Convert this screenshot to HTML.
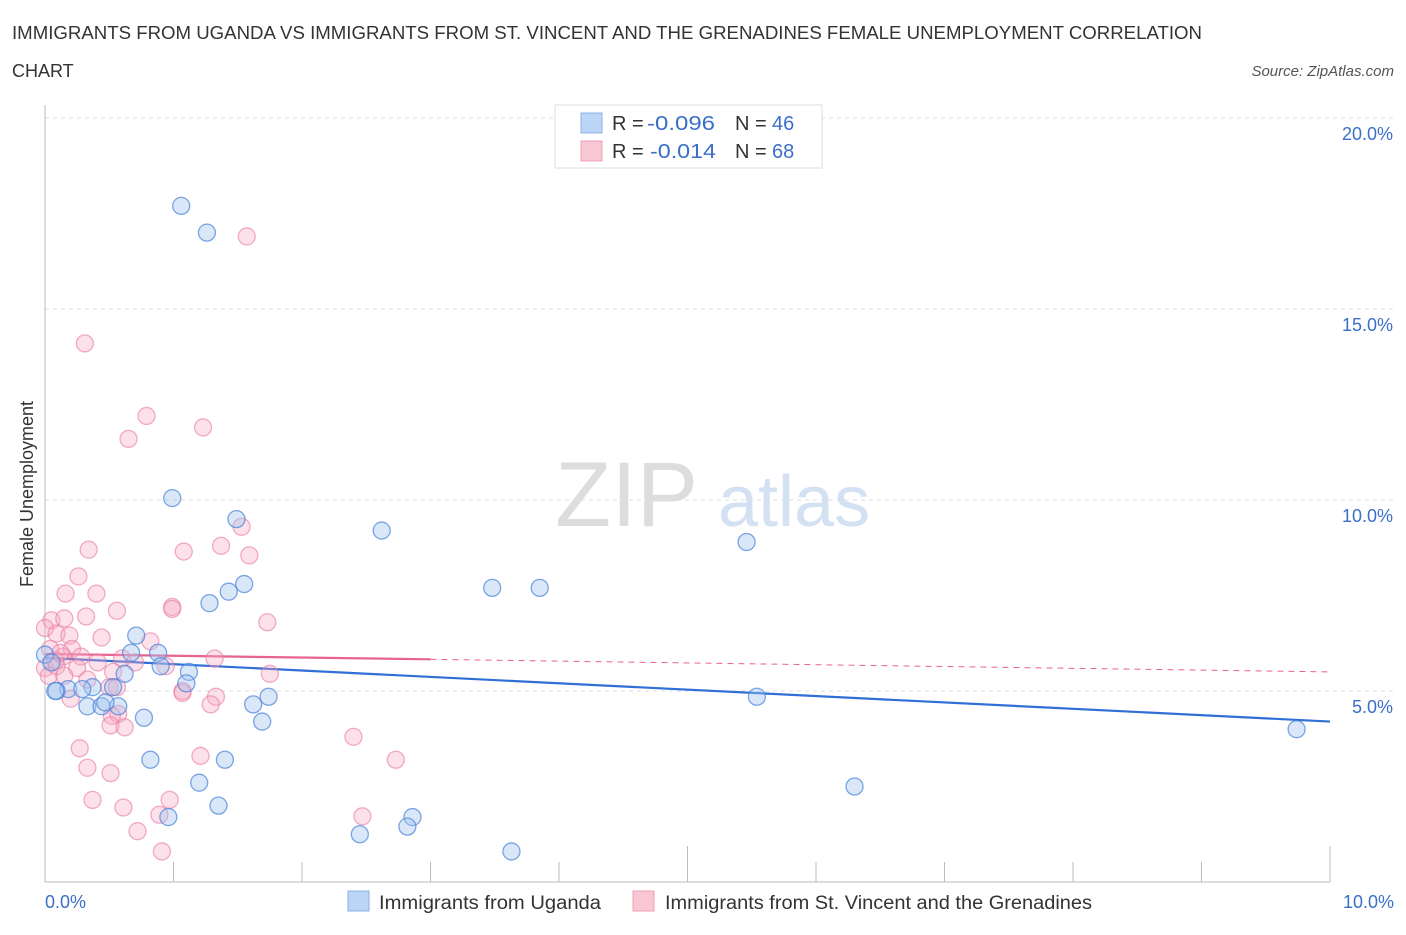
<!DOCTYPE html>
<html><head><meta charset="utf-8"><style>
body{margin:0;background:#fff;font-family:"Liberation Sans",sans-serif;}
svg text{font-family:"Liberation Sans",sans-serif;}
</style></head><body>
<svg id="chart" width="1406" height="930" xmlns="http://www.w3.org/2000/svg">
<text x="12" y="39" font-size="18" fill="#333" textLength="1190" lengthAdjust="spacingAndGlyphs">IMMIGRANTS FROM UGANDA VS IMMIGRANTS FROM ST. VINCENT AND THE GRENADINES FEMALE UNEMPLOYMENT CORRELATION</text>
<text x="12" y="77" font-size="18" fill="#333">CHART</text>
<text x="1394" y="76" font-size="15" fill="#555" text-anchor="end" font-style="italic">Source: ZipAtlas.com</text>
<text x="555" y="526" font-size="92" fill="#ddd" font-family="Liberation Serif">ZIP</text>
<text x="718" y="526" font-size="72" fill="#d3e1f3">atlas</text>
<g id="grid"></g>
<g id="axes"></g>
<text transform="translate(33,494) rotate(-90)" font-size="18" fill="#333" text-anchor="middle">Female Unemployment</text>
<g id="lines"></g>
<g id="pts"></g>
<g>
<rect x="555" y="105" width="267" height="63" fill="#fff" stroke="#ddd"/>
<rect x="581" y="113" width="21" height="20" fill="#bcd4f5" stroke="#8ab0e8"/>
<rect x="581" y="141" width="21" height="20" fill="#f9c6d4" stroke="#eda0b6"/>
<text x="612" y="130" font-size="20" fill="#333">R = </text><text x="647" y="130" font-size="20" fill="#3a6fc9" textLength="68" lengthAdjust="spacingAndGlyphs">-0.096</text>
<text x="735" y="130" font-size="20" fill="#333">N = </text><text x="772" y="130" font-size="20" fill="#3a6fc9">46</text>
<text x="612" y="158" font-size="20" fill="#333">R = </text><text x="650" y="158" font-size="20" fill="#3a6fc9" textLength="66" lengthAdjust="spacingAndGlyphs">-0.014</text>
<text x="735" y="158" font-size="20" fill="#333">N = </text><text x="772" y="158" font-size="20" fill="#3a6fc9">68</text>
</g>
<g>
<rect x="348" y="891" width="21" height="20" fill="#bcd4f5" stroke="#8ab0e8"/>
<text x="379" y="909" font-size="19" fill="#333" textLength="222" lengthAdjust="spacingAndGlyphs">Immigrants from Uganda</text>
<rect x="633" y="891" width="21" height="20" fill="#f9c6d4" stroke="#eda0b6"/>
<text x="665" y="909" font-size="19" fill="#333" textLength="427" lengthAdjust="spacingAndGlyphs">Immigrants from St. Vincent and the Grenadines</text>
</g>
</svg>
<script>
const yTicks=[5,10,15,20];
const yTickLabels=["5.0%","10.0%","15.0%","20.0%"];
const xTickLabels=["0.0%","10.0%"];
const blueX=[1.06,1.26,0.99,1.49,2.62,5.46,1.55,1.43,1.28,3.48,3.85,0.71,0.67,0.88,0.90,1.12,0.62,1.10,0.53,0.37,0.18,0.29,0.09,0.0,0.05,0.08,1.74,5.54,1.62,0.33,0.44,0.57,0.47,0.77,1.69,9.74,0.82,1.40,1.20,6.30,1.35,0.96,2.86,2.82,2.45,3.63];
const blueY=[17.7,17.0,10.05,9.5,9.2,8.9,7.8,7.6,7.3,7.7,7.7,6.45,6.0,6.0,5.65,5.5,5.45,5.2,5.1,5.1,5.05,5.05,5.0,5.95,5.75,5.0,4.85,4.85,4.65,4.6,4.6,4.6,4.7,4.3,4.2,4.0,3.2,3.2,2.6,2.5,2.0,1.7,1.7,1.45,1.25,0.8];
const pinkX=[1.57,0.31,0.79,1.23,0.65,1.53,0.34,1.08,1.37,1.59,0.26,0.16,0.40,0.99,0.56,0.99,1.73,0.05,0.32,0.15,0.0,0.09,0.19,0.44,0.82,0.21,0.04,0.14,0.41,0.28,0.94,1.32,0.60,0.0,0.08,0.53,0.25,1.07,0.50,1.33,1.75,0.20,1.29,0.57,0.52,0.51,0.62,2.40,0.27,1.21,2.73,0.33,0.51,0.37,0.97,0.61,2.47,0.89,0.72,0.91,0.03,0.09,0.15,0.70,1.07,0.56,0.33,0.12];
const pinkY=[16.9,14.1,12.2,11.9,11.6,9.3,8.7,8.65,8.8,8.55,8.0,7.55,7.55,7.2,7.1,7.15,6.8,6.85,6.95,6.9,6.65,6.5,6.45,6.4,6.3,6.1,6.1,5.9,5.75,5.9,5.65,5.85,5.85,5.6,5.8,5.5,5.6,5.0,5.1,4.85,5.45,4.8,4.65,4.4,4.35,4.1,4.05,3.8,3.5,3.3,3.2,2.99,2.85,2.15,2.15,1.95,1.72,1.76,1.33,0.8,5.4,5.65,5.4,5.75,4.95,5.1,5.3,6.0];
const blueTrend=[5.87,4.2];
const pinkTrend=[5.97,5.5];
const NS="http://www.w3.org/2000/svg";
const X0=45,X1=1330,Y0=882,Y20=118;
const xs=v=>X0+v/10*(X1-X0);
const ys=v=>Y0-v/20*(Y0-Y20);
function mk(tag,attrs,parent){const e=document.createElementNS(NS,tag);for(const k in attrs)e.setAttribute(k,attrs[k]);parent.appendChild(e);return e;}
const grid=document.getElementById('grid'),axes=document.getElementById('axes');
yTicks.forEach((t,i)=>{
  const l=mk('line',{x1:X0,x2:1394,y1:ys(t),y2:ys(t),stroke:'#ddd','stroke-dasharray':'4,4'},grid);
  
  
  const tx=mk('text',{x:1393,y:ys(t)+22,'font-size':18,fill:'#3a6fc9','text-anchor':'end'},axes);
  tx.textContent=yTickLabels[i];
  
  
});
const ya=mk('line',{x1:X0,x2:X0,y1:105,y2:Y0,stroke:'#bbb'},axes);


const xa=mk('line',{x1:X0,x2:X1,y1:Y0,y2:Y0,stroke:'#bbb'},axes);


for(let i=0;i<=10;i++){
  const t=mk('line',{x1:xs(i),x2:xs(i),y1:Y0,y2:i%5==0?Y0-36:Y0-20,stroke:'#bbb'},axes);
  
  
}
[[0,'start',X0],[10,'end',1394]].forEach((d,i)=>{
  const tx=mk('text',{x:d[2],y:908,'font-size':18,fill:'#3a6fc9','text-anchor':d[1]},axes);
  tx.textContent=xTickLabels[i];
  
  
});
const pts=document.getElementById('pts');
pinkX.forEach((x,i)=>{
  const c=mk('circle',{cx:xs(x),cy:ys(pinkY[i]),r:8.5,fill:'rgba(246,170,195,0.35)',stroke:'rgba(232,120,160,0.6)','stroke-width':1.3},pts);
  
  
});
blueX.forEach((x,i)=>{
  const c=mk('circle',{cx:xs(x),cy:ys(blueY[i]),r:8.5,fill:'rgba(160,196,240,0.4)',stroke:'rgba(70,130,215,0.7)','stroke-width':1.3},pts);
  
  
});
const lines=document.getElementById('lines');
const bl=mk('line',{x1:xs(0),y1:ys(blueTrend[0]),x2:xs(10),y2:ys(blueTrend[1]),stroke:'#2f6fd6','stroke-width':2.2},lines);


const f=v=>pinkTrend[0]+(pinkTrend[1]-pinkTrend[0])*v/10;
const pl=mk('line',{x1:xs(0),y1:ys(f(0)),x2:xs(3),y2:ys(f(3)),stroke:'#e8638e','stroke-width':2.2},lines);


const pd=mk('line',{x1:xs(3),y1:ys(f(3)),x2:xs(10),y2:ys(f(10)),stroke:'#e8638e','stroke-width':1,'stroke-dasharray':'6,5'},lines);


</script>
</body></html>
